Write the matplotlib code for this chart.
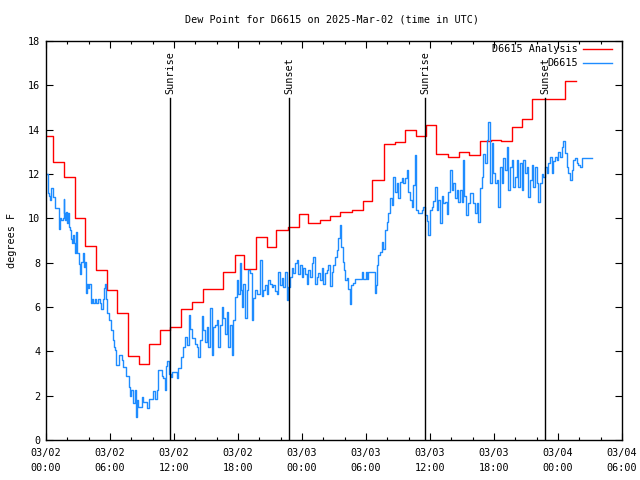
import matplotlib
matplotlib.use("Agg")
import matplotlib.pyplot as plt
from matplotlib.lines import Line2D

# ---- data (hours since 2025-03-02 00:00 UTC) ----
analysis_hours = [0, 0.7, 1.65, 2.7, 3.7, 4.7, 5.7, 6.7, 7.7, 8.7, 9.7, 10.7, 11.65,
                  12.7, 13.7, 14.7, 15.7, 16.6, 17.7, 18.6, 19.7, 20.7, 21.6, 22.7,
                  23.7, 24.6, 25.7, 26.6, 27.6, 28.7, 29.7, 30.6, 31.7, 32.7, 33.7,
                  34.7, 35.6, 36.6, 37.7, 38.7, 39.7, 40.7, 41.7, 42.7, 43.7, 44.6,
                  45.6, 46.6, 47.7, 48.7, 49.7]
analysis_vals = [13.71, 12.54, 11.85, 10.0, 8.74, 7.65, 6.78, 5.73, 3.79, 3.41, 4.31, 4.95, 5.08,
                 5.9, 6.24, 6.8, 6.8, 7.6, 8.33, 7.71, 9.14, 8.69, 9.46, 9.6,
                 10.19, 9.81, 9.91, 10.1, 10.27, 10.36, 10.8, 11.71, 13.37, 13.43, 13.97,
                 13.71, 14.21, 12.89, 12.75, 12.99, 12.84, 13.49, 13.55, 13.5, 14.1, 14.5,
                 15.37, 15.37, 15.37, 16.18, 16.18]

obs_hours = [
    0.0, 0.15, 0.25, 0.35, 0.5, 0.7, 0.8, 1.2, 1.25, 1.3, 1.45, 1.6, 1.65, 1.7, 1.8, 1.9,
    2.0, 2.1, 2.2, 2.25, 2.3, 2.45, 2.55, 2.6, 2.75, 2.85, 2.95, 3.1, 3.15, 3.25, 3.45,
    3.55, 3.65, 3.75, 3.85, 3.95, 4.05, 4.2, 4.3, 4.4, 4.55, 4.7, 4.85, 5.05, 5.15, 5.3,
    5.45, 5.55, 5.6, 5.75, 5.95, 6.1, 6.25, 6.35, 6.45, 6.55, 6.8, 7.1, 7.25, 7.5, 7.8,
    7.9, 8.0, 8.15, 8.3, 8.4, 8.5, 8.6, 8.75,
    9.0, 9.12, 9.44, 9.66, 10.06, 10.22, 10.37, 10.53, 10.84, 11.0, 11.15, 11.25, 11.37,
    11.56, 11.68, 11.78, 12.25, 12.4, 12.62, 12.81, 13.03, 13.19, 13.44, 13.5, 13.66,
    13.81, 13.97, 14.12, 14.28, 14.44, 14.59, 14.75, 14.9, 15.06, 15.22, 15.37, 15.53,
    15.69, 15.84, 16.0, 16.16, 16.31, 16.47, 16.62, 16.78, 16.94, 17.09, 17.25, 17.41,
    17.56, 17.72, 17.87, 18.03, 18.15, 18.25, 18.34, 18.5, 18.66, 18.81, 18.97,
    19.13, 19.28, 19.44, 19.6, 19.75, 20.06, 20.22, 20.37, 20.53, 20.69, 20.84, 21.0,
    21.16, 21.31, 21.47, 21.62, 21.78, 21.94, 22.09, 22.25, 22.41, 22.56, 22.72, 22.88,
    23.03, 23.19, 23.34, 23.5, 23.66, 23.81, 23.97, 24.12, 24.28, 24.44, 24.59, 24.75,
    24.91, 25.06, 25.22, 25.37, 25.53, 25.69, 25.84, 26.0, 26.16, 26.31, 26.47, 26.62,
    26.78, 26.94, 27.09, 27.25, 27.41, 27.56, 27.66, 27.81, 27.94, 28.06, 28.19, 28.34,
    28.5, 28.6, 28.81, 28.97, 29.6, 29.75, 29.97, 30.06, 30.22, 30.84, 30.97, 31.0,
    31.16, 31.31, 31.47, 31.62, 31.78, 31.94, 32.09, 32.25, 32.41, 32.56, 32.72, 32.87,
    33.03, 33.19, 33.34, 33.5, 33.66, 33.81, 33.97, 34.12, 34.28, 34.44, 34.59, 34.69,
    34.84, 35.22, 35.37, 35.53, 35.69, 35.84, 36.0, 36.16, 36.31, 36.47, 36.62, 36.78,
    36.94, 37.1, 37.25, 37.41, 37.56, 37.72, 37.87, 38.03, 38.19, 38.34, 38.5, 38.66,
    38.81, 38.97, 39.12, 39.22, 39.37, 39.6, 39.75, 40.06, 40.22, 40.37, 40.53, 40.69,
    40.84, 41.0, 41.16, 41.31, 41.47, 41.62, 41.78, 41.94, 42.09, 42.25, 42.41, 42.56,
    42.72, 42.87, 43.03, 43.19, 43.34, 43.5, 43.66, 43.81, 43.97, 44.12, 44.28, 44.44,
    44.59, 44.75, 44.91, 45.06, 45.22, 45.37, 45.53, 45.69, 45.84, 46.0, 46.16, 46.31,
    46.47, 46.62, 46.78, 46.94, 47.09, 47.25, 47.41, 47.56, 47.72, 47.87, 48.03, 48.19,
    48.34, 48.5, 48.66, 48.81, 48.97, 49.12, 49.28, 49.44, 49.59, 49.75, 49.91, 50.06,
    50.22, 51.16]
obs_vals = [
    12.02, 11.15, 11.0, 10.82, 11.35, 10.97, 10.45, 10.0, 9.5, 10.0, 9.92, 10.0, 10.87, 10.22, 9.92, 10.3,
    9.77, 10.22, 9.6, 9.47, 9.09, 8.87, 9.24, 8.87, 8.42, 9.39, 8.42, 7.96, 7.51, 8.04, 8.45,
    7.81, 8.04, 6.61, 7.06, 6.84, 7.06, 6.16, 6.38, 6.16, 6.38, 6.16, 6.38, 6.16, 5.93, 6.38,
    6.84, 7.06, 6.38, 5.71, 5.41, 4.96, 4.5, 4.2, 4.05, 3.38, 3.83, 3.6, 3.3, 2.88, 2.4,
    2.0, 2.25, 1.65, 2.25, 1.05, 1.8, 1.5, 1.5,
    1.95, 1.73, 1.43, 1.83, 2.2, 1.83, 2.25, 3.18, 2.9, 2.78, 2.25, 3.33, 3.57,
    3.0, 2.85, 3.05, 2.78, 3.27, 3.76, 4.2, 4.66, 4.28, 5.63, 5.03, 4.6,
    4.58, 4.35, 4.2, 3.76, 4.5, 5.59, 4.95, 4.43, 5.11, 4.2, 5.94, 3.83,
    5.11, 5.2, 5.41, 4.2, 5.2, 6.01, 5.5, 4.8, 5.78, 4.2, 5.2, 3.83,
    5.4, 6.46, 7.21, 6.6, 8.0, 6.76, 6.0, 7.06, 5.5, 6.76, 7.67,
    7.52, 5.41, 6.4, 6.76, 6.6, 8.12, 6.5, 6.76, 7.0, 6.6, 7.22, 7.06,
    6.92, 7.0, 6.7, 6.6, 7.59, 7.0, 7.3, 6.92, 7.59, 6.31, 6.92, 7.37,
    7.74, 7.52, 7.97, 8.12, 7.5, 7.9, 7.37, 7.74, 7.5, 7.06, 7.67, 7.37,
    7.97, 8.27, 7.06, 7.37, 7.52, 7.2, 7.74, 7.06, 7.52, 7.67, 7.9, 6.95,
    7.59, 7.9, 8.27, 8.57, 9.1, 9.7, 8.72, 8.04, 7.67, 7.2, 7.3, 6.8,
    6.14, 7.0, 7.1, 7.25, 7.6, 7.25, 7.6, 7.25, 7.6, 6.62, 7.0, 7.9,
    8.35, 8.5, 8.95, 8.6, 9.48, 9.85, 10.23, 10.9, 10.6, 11.88, 11.2, 11.6,
    10.9, 11.66, 11.81, 11.6, 11.81, 12.18, 11.2, 10.83, 10.5, 11.5, 12.86, 10.38,
    10.23, 10.38, 10.53, 10.15, 9.9, 9.25, 10.38, 10.53, 10.8, 11.43, 10.38, 10.83,
    9.78, 11.0, 10.67, 10.75, 10.2, 11.2, 12.18, 11.28, 11.6, 10.9, 11.28, 10.75,
    11.28, 10.75, 12.63, 11.0, 10.15, 10.67, 11.13, 10.67, 10.22, 10.67, 9.85, 11.35,
    11.88, 12.9, 12.5, 13.53, 14.36, 11.6, 13.38, 12.03, 11.58, 11.73, 10.5, 12.33,
    11.6, 12.7, 12.18, 13.23, 11.3, 12.33, 12.63, 11.43, 11.88, 12.63, 11.43, 12.48,
    11.28, 12.63, 12.03, 12.33, 10.97, 11.73, 12.4, 11.43, 12.33, 11.58, 10.75, 11.6,
    12.0, 11.85, 12.33, 12.03, 12.5, 12.78, 12.03, 12.6, 12.78, 12.63, 13.0, 12.78,
    13.2, 13.5, 12.93, 12.33, 12.03, 11.73, 12.18, 12.63, 12.7, 12.48, 12.4, 12.3,
    12.7, 12.7]

sun_hours = [11.65, 22.81, 35.56, 46.81]
sun_labels = ["Sunrise", "Sunset", "Sunrise", "Sunset"]

xtick_hours = [0, 6, 12, 18, 24, 30, 36, 42, 48, 54]
xtick_labels = ["03/02\n00:00", "03/02\n06:00", "03/02\n12:00", "03/02\n18:00",
                "03/03\n00:00", "03/03\n06:00", "03/03\n12:00", "03/03\n18:00",
                "03/04\n00:00", "03/04\n06:00"]
yticks = [0, 2, 4, 6, 8, 10, 12, 14, 16, 18]

title = "Dew Point for D6615 on 2025-Mar-02 (time in UTC)"
series_names = ["D6615 Analysis", "D6615"]
colors = ["#ff0000", "#1e8cff"]

# ---- plot ----
plt.rcParams['font.family'] = ['DejaVu Sans Mono']
FS = 7.3

fig = plt.figure(figsize=(6.4, 4.8), dpi=100)
ax = fig.add_axes([46/640, 40/480, 576/640, 399/480])

ax.plot(analysis_hours, analysis_vals, drawstyle='steps-post', color=colors[0], lw=1.0)
ax.plot(obs_hours, obs_vals, drawstyle='steps-post', color=colors[1], lw=1.0)

for h, lab in zip(sun_hours, sun_labels):
    ax.plot([h, h], [0, 15.43], color='black', lw=1.0)
    ax.text(h, 15.6, lab, rotation=90, ha='center', va='bottom', fontsize=FS)

ax.set_xlim(0, 54)
ax.set_ylim(0, 18)
ax.set_xticks(xtick_hours)
ax.set_xticklabels(xtick_labels, fontsize=FS, linespacing=1.6)
ax.set_xticks(range(0, 55, 2), minor=True)
ax.set_yticks(yticks)
ax.set_yticklabels([str(v) for v in yticks], fontsize=FS)
ax.tick_params(which='both', direction='in', top=True, right=True, color='black')
ax.tick_params(which='major', length=5, width=0.8, pad=6)
ax.tick_params(which='minor', length=2.5, width=0.8)
ax.tick_params(axis='y', pad=4)
for s in ax.spines.values():
    s.set_linewidth(1.0)

ax.set_ylabel("degrees F", fontsize=FS, labelpad=8)
fig.text(332/640, 1 - 20/480, title, ha='center', va='center', fontsize=FS)

# legend (manual, right-aligned like gnuplot)
leg_y = [0.98, 0.945]
for name, col, ly in zip(series_names, colors, leg_y):
    ax.text(0.9236, ly, name, transform=ax.transAxes, ha='right', va='center', fontsize=FS)
    ax.add_line(Line2D([0.9323, 0.9826], [ly, ly], transform=ax.transAxes, color=col, lw=1.0))

fig.savefig("out.png", dpi=100)
